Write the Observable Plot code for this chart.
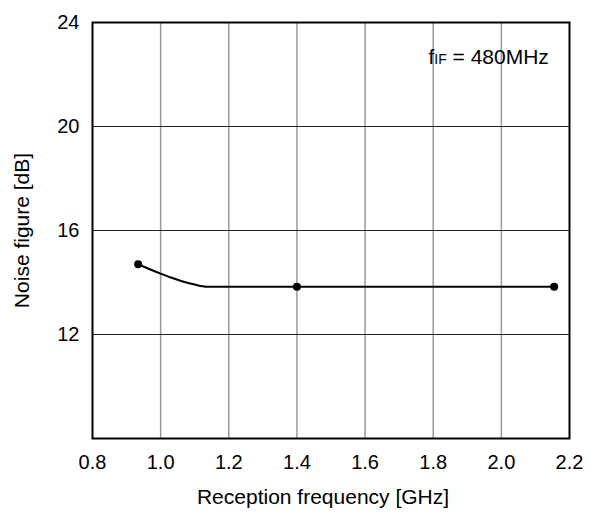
<!DOCTYPE html>
<html>
<head>
<meta charset="utf-8">
<script src="https://cdn.jsdelivr.net/npm/d3@7"></script>
<script src="https://cdn.jsdelivr.net/npm/@observablehq/plot@0.6"></script>
<style>
  html, body { margin: 0; padding: 0; background: #fff; }
  svg { font-family: Arial, "Liberation Sans", sans-serif; }
</style>
</head>
<body>
<div id="chart"></div>
<script>
// Curve (measured) points
const curveFreq = [0.934, 0.97, 1.0, 1.03, 1.06, 1.1, 1.135, 1.4, 2.155];
const curveNF   = [14.7, 14.5, 14.34, 14.19, 14.06, 13.92, 13.84, 13.84, 13.84];
// Marked measurement points
const markFreq = [0.934, 1.4, 2.155];
const markNF   = [14.7, 13.84, 13.84];
// Tick labels
const xTicks = [0.8, 1.0, 1.2, 1.4, 1.6, 1.8, 2.0, 2.2];
const xGrid  = [1.0, 1.2, 1.4, 1.6, 1.8, 2.0];
const yTicks = [12, 16, 20, 24];
const yGrid  = [12, 16, 20];
const annotation = [{x: 1.786, y: 22.673, text: "fIF = 480MHz"}];

const curve = curveFreq.map((f, i) => ({f, nf: curveNF[i]}));
const marks = markFreq.map((f, i) => ({f, nf: markNF[i]}));

const plot = Plot.plot({
  width: 593,
  height: 514,
  marginLeft: 92,
  marginRight: 24,
  marginTop: 22,
  marginBottom: 76,
  style: {fontFamily: "Arial, 'Liberation Sans', sans-serif", fontSize: "20px", color: "#000", background: "#fff"},
  x: {domain: [0.8, 2.2]},
  y: {domain: [8, 24]},
  marks: [
    Plot.gridX(xGrid, {stroke: "#999", strokeOpacity: 1, strokeWidth: 1.5}),
    Plot.gridY(yGrid, {stroke: "#222", strokeOpacity: 1, strokeWidth: 1}),
    Plot.axisX({ticks: xTicks, tickSize: 0, tickPadding: 16, tickFormat: d3.format(".1f"), label: null, fontSize: 20}),
    Plot.axisY({ticks: yTicks, tickSize: 0, tickPadding: 13, label: null, fontSize: 20}),
    Plot.frame({stroke: "#000", strokeWidth: 2}),
    Plot.line(curve, {x: "f", y: "nf", curve: "monotone-x", stroke: "#000", strokeWidth: 2}),
    Plot.dot(marks, {x: "f", y: "nf", r: 4, fill: "#000", stroke: "none"}),
    Plot.text(annotation, {x: "x", y: "y", text: "text", textAnchor: "start", fontSize: 21, fill: "#000", className: "anno"}),
    Plot.text(["Reception frequency [GHz]"], {frameAnchor: "bottom", lineAnchor: "middle", dx: -8, dy: 59, fontSize: 21, fill: "#000"}),
    Plot.text(["Noise figure [dB]"], {frameAnchor: "left", textAnchor: "middle", lineAnchor: "middle", dx: -70, rotate: -90, fontSize: 21, fill: "#000"})
  ]
});

document.getElementById("chart").appendChild(plot);

// Subscript styling of the annotation "fIF"
d3.select(plot).selectAll(".anno text").each(function() {
  const t = d3.select(this);
  t.text(null);
  t.append("tspan").text("f");
  t.append("tspan").attr("font-size", "14px").text("IF");
  t.append("tspan").text(" = 480MHz");
});
</script>
</body>
</html>
